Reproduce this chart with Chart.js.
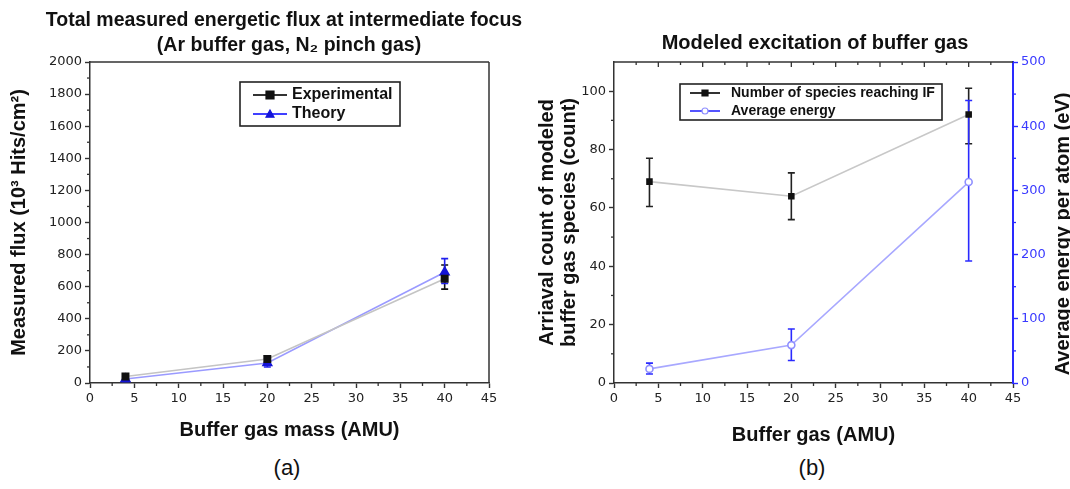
<!DOCTYPE html>
<html><head><meta charset="utf-8">
<script src="https://cdn.jsdelivr.net/npm/chart.js@4.4.1/dist/chart.umd.min.js"></script>
<style>
html,body{margin:0;padding:0;background:#fff;width:1070px;height:489px;overflow:hidden;font-family:'Liberation Sans',Arial,sans-serif}
#wa{position:absolute;left:0;top:0;width:530px;height:450px}
#wb{position:absolute;left:530px;top:0;width:540px;height:450px}
.cap{position:absolute;top:455px;font-size:22px;color:#111;transform:translateX(-50%);line-height:26px}
</style></head><body>
<div id="wa"><canvas id="ca"></canvas></div>
<div id="wb"><canvas id="cb"></canvas></div>
<div class="cap" style="left:287px">(a)</div>
<div class="cap" style="left:812px">(b)</div>
<script>
// ---------- data: panel (a) ----------
const massA = [4, 20, 40];
const expFlux = [40, 150, 650];
const expLow = [25, 130, 585];
const expHigh = [55, 170, 735];
const theoryFlux = [25, 125, 690];
const theoryLow = [10, 100, 620];
const theoryHigh = [40, 150, 775];

// ---------- data: panel (b) ----------
const massB = [4, 20, 40];
const speciesCount = [69, 64, 92];
const speciesLow = [60.5, 56, 82];
const speciesHigh = [77, 72, 101];
const avgEnergy = [22, 59, 313];
const energyLow = [14, 35, 190];
const energyHigh = [31, 84, 440];

const labelsA = ['Experimental', 'Theory'];
const labelsB = ['Number of species reaching IF', 'Average energy'];

const pts = (xs, ys) => xs.map((x, i) => ({x: x, y: ys[i]}));

const FONT = "'Liberation Sans', Arial, Helvetica, sans-serif";
const TICKFONT = {family: "'DejaVu Sans', sans-serif", size: 13};
const AX = '#333';
const BLUE = '#2a2aff';

function marker(ctx, style, x, y, r, fill, stroke) {
  ctx.save();
  ctx.fillStyle = fill; ctx.strokeStyle = stroke; ctx.lineWidth = 1.2;
  ctx.beginPath();
  if (style === 'rect') {
    ctx.rect(x - r, y - r, 2 * r, 2 * r);
  } else if (style === 'triangle') {
    ctx.moveTo(x, y - r); ctx.lineTo(x + r, y + r * 0.8); ctx.lineTo(x - r, y + r * 0.8); ctx.closePath();
  } else {
    ctx.arc(x, y, r, 0, Math.PI * 2);
  }
  ctx.fill(); ctx.stroke();
  ctx.restore();
}

const decor = {
  id: 'decor',
  beforeDatasetsDraw(chart) {
    const ctx = chart.ctx;
    chart.data.datasets.forEach((ds) => {
      if (!ds.errLow) return;
      const xs = chart.scales.x, ys = chart.scales[ds.yAxisID || 'y'];
      ctx.save();
      ctx.strokeStyle = ds.errColor; ctx.lineWidth = 1.6;
      ds.data.forEach((p, j) => {
        const px = xs.getPixelForValue(p.x);
        const y1 = ys.getPixelForValue(ds.errLow[j]);
        const y2 = ys.getPixelForValue(ds.errHigh[j]);
        ctx.beginPath();
        ctx.moveTo(px, y1); ctx.lineTo(px, y2);
        ctx.moveTo(px - 3.5, y1); ctx.lineTo(px + 3.5, y1);
        ctx.moveTo(px - 3.5, y2); ctx.lineTo(px + 3.5, y2);
        ctx.stroke();
      });
      ctx.restore();
    });
  },
  afterDraw(chart, args, o) {
    const ctx = chart.ctx, a = chart.chartArea;
    ctx.save();
    ctx.strokeStyle = AX; ctx.lineWidth = 1.5;
    ctx.beginPath();
    ctx.moveTo(a.left, a.top); ctx.lineTo(a.right, a.top);
    if (o.rightFrame) { ctx.moveTo(a.right, a.top); ctx.lineTo(a.right, a.bottom); }
    ctx.stroke();
    (o.minor || []).forEach(m => {
      const s = chart.scales[m.axis];
      ctx.strokeStyle = m.color; ctx.lineWidth = 1.3;
      for (let v = s.min + m.step; v < s.max; v += 2 * m.step) {
        ctx.beginPath();
        if (m.axis === 'x') {
          const px = s.getPixelForValue(v);
          ctx.moveTo(px, a.bottom); ctx.lineTo(px, a.bottom + 3);
        } else if (s.position === 'left') {
          const py = s.getPixelForValue(v);
          ctx.moveTo(a.left - 3, py); ctx.lineTo(a.left, py);
        } else {
          const py = s.getPixelForValue(v);
          ctx.moveTo(a.right, py); ctx.lineTo(a.right + 3, py);
        }
        ctx.stroke();
      }
    });
    if (o.topTicks) {
      const s = chart.scales.x;
      ctx.strokeStyle = AX; ctx.lineWidth = 1.3;
      for (let v = s.min + o.topTicks; v < s.max - 1e-6; v += o.topTicks) {
        const major = Math.abs(v / (2 * o.topTicks) - Math.round(v / (2 * o.topTicks))) < 1e-6;
        const px = s.getPixelForValue(v);
        ctx.beginPath(); ctx.moveTo(px, a.top); ctx.lineTo(px, a.top + (major ? 5 : 3)); ctx.stroke();
      }
    }
    (o.texts || []).forEach(t => {
      ctx.save();
      ctx.font = t.font; ctx.fillStyle = t.color || '#111';
      ctx.textAlign = 'center'; ctx.textBaseline = 'middle';
      ctx.translate(t.x, t.y);
      if (t.rot) ctx.rotate(t.rot);
      ctx.fillText(t.text, 0, 0);
      ctx.restore();
    });
    const L = o.legend;
    if (L) {
      ctx.fillStyle = '#fff'; ctx.fillRect(L.x, L.y, L.w, L.h);
      ctx.strokeStyle = '#222'; ctx.lineWidth = 1.6; ctx.strokeRect(L.x, L.y, L.w, L.h);
      chart.data.datasets.forEach((ds, i) => {
        const cy = L.y + L.padTop + i * L.rowH;
        ctx.strokeStyle = ds.legendColor; ctx.lineWidth = 2;
        ctx.beginPath(); ctx.moveTo(L.x + L.l0, cy); ctx.lineTo(L.x + L.l1, cy); ctx.stroke();
        marker(ctx, ds.pointStyle, L.x + (L.l0 + L.l1) / 2, cy, L.r, ds.pointBackgroundColor, ds.pointBorderColor);
        ctx.fillStyle = '#111'; ctx.font = L.font; ctx.textAlign = 'left'; ctx.textBaseline = 'middle';
        ctx.fillText(ds.label, L.x + L.tx, cy);
      });
    }
    ctx.restore();
  }
};

const plain = v => String(v);
const tickCfg = (step, color) => ({stepSize: step, font: TICKFONT, color: color || '#222', padding: 3, maxRotation: 0, includeBounds: false, callback: plain});
const gridCfg = (color) => ({drawOnChartArea: false, tickLength: 5, tickColor: color || AX, tickWidth: 1.4});
const titleFont = {family: FONT, size: 20, weight: 'bold', lineHeight: 1.1};

// ---------- chart (a) ----------
new Chart(document.getElementById('ca'), {
  type: 'line',
  data: {datasets: [
    {label: labelsA[0], data: pts(massA, expFlux), errLow: expLow, errHigh: expHigh, errColor: '#111',
     borderColor: '#c4c4c4', borderWidth: 1.6, pointStyle: 'rect', pointRadius: 4.5,
     pointBackgroundColor: '#111', pointBorderColor: '#111', legendColor: '#333'},
    {label: labelsA[1], data: pts(massA, theoryFlux), errLow: theoryLow, errHigh: theoryHigh, errColor: '#2020ee',
     borderColor: '#9a9aff', borderWidth: 1.6, pointStyle: 'triangle', pointRadius: 5,
     pointBackgroundColor: '#1414d8', pointBorderColor: '#1414d8', legendColor: '#4040ff'}
  ]},
  options: {
    responsive: true, maintainAspectRatio: false, animation: false,
    layout: {padding: {top: 62, right: 41, left: 0, bottom: 0}},
    plugins: {
      legend: {display: false}, tooltip: {enabled: false},
      decor: {
        rightFrame: true,
        minor: [{axis: 'x', step: 2.5, color: AX}, {axis: 'y', step: 100, color: AX}],
        texts: [
          {text: 'Total measured energetic flux at intermediate focus', x: 284, y: 21, font: "bold 19.5px " + FONT},
          {text: '(Ar buffer gas, N\u2082 pinch gas)', x: 289, y: 46, font: "bold 19.5px " + FONT}
        ],
        legend: {x: 240, y: 82, w: 160, h: 44, padTop: 13, rowH: 19, l0: 13, l1: 47, tx: 52, r: 4, font: "bold 16px " + FONT}
      }
    },
    scales: {
      x: {type: 'linear', min: 0, max: 45, ticks: tickCfg(5), grid: gridCfg(), border: {color: AX, width: 1.5},
          title: {display: true, text: 'Buffer gas mass (AMU)', font: titleFont, color: '#111', padding: {top: 0, bottom: 9}},
          afterFit: s => { s.height = 67; }},
      y: {min: 0, max: 2000, ticks: tickCfg(200), grid: gridCfg(), border: {color: AX, width: 1.5},
          title: {display: true, text: 'Measured flux (10\u00b3 Hits/cm\u00b2)', font: titleFont, color: '#111', padding: {top: 8, bottom: 0}},
          afterFit: s => { s.width = 90; }}
    }
  },
  plugins: [decor]
});

// ---------- chart (b) ----------
new Chart(document.getElementById('cb'), {
  type: 'line',
  data: {datasets: [
    {label: labelsB[0], data: pts(massB, speciesCount), yAxisID: 'y', errLow: speciesLow, errHigh: speciesHigh, errColor: '#222',
     borderColor: '#c8c8c8', borderWidth: 1.6, pointStyle: 'rect', pointRadius: 3.5,
     pointBackgroundColor: '#111', pointBorderColor: '#111', legendColor: '#333'},
    {label: labelsB[1], data: pts(massB, avgEnergy), yAxisID: 'y1', errLow: energyLow, errHigh: energyHigh, errColor: BLUE,
     borderColor: '#a8a8ff', borderWidth: 1.6, pointStyle: 'circle', pointRadius: 3.5,
     pointBackgroundColor: '#fff', pointBorderColor: '#9090ff', legendColor: '#5555ff'}
  ]},
  options: {
    responsive: true, maintainAspectRatio: false, animation: false,
    layout: {padding: {top: 62, right: 0, left: 0, bottom: 0}},
    plugins: {
      legend: {display: false}, tooltip: {enabled: false},
      decor: {
        rightFrame: false,
        topTicks: 2.5,
        minor: [{axis: 'x', step: 2.5, color: AX}, {axis: 'y', step: 10, color: AX}, {axis: 'y1', step: 50, color: BLUE}],
        texts: [
          {text: 'Modeled excitation of buffer gas', x: 285, y: 43, font: "bold 20px " + FONT},
          {text: 'Average energy per atom (eV)', x: 533, y: 234, rot: -Math.PI / 2, font: "bold 20px " + FONT}
        ],
        legend: {x: 150, y: 84, w: 262, h: 36, padTop: 9, rowH: 18, l0: 10, l1: 40, tx: 51, r: 3, font: "bold 14px " + FONT}
      }
    },
    scales: {
      x: {type: 'linear', min: 0, max: 45, ticks: tickCfg(5), grid: gridCfg(), border: {color: AX, width: 1.5},
          title: {display: true, text: 'Buffer gas (AMU)', font: titleFont, color: '#111', padding: {top: 0, bottom: 4}},
          afterFit: s => { s.height = 67; }},
      y: {position: 'left', min: 0, max: 110, ticks: tickCfg(20), grid: gridCfg(), border: {color: AX, width: 1.5},
          title: {display: true, text: ['Arriaval count of modeled', 'buffer gas species (count)'], font: titleFont, color: '#111', padding: {top: 6, bottom: 0}},
          afterFit: s => { s.width = 84; }},
      y1: {position: 'right', min: 0, max: 500, ticks: tickCfg(100, '#3a3aff'), grid: gridCfg(BLUE), border: {color: BLUE, width: 2},
          afterFit: s => { s.width = 57; }}
    }
  },
  plugins: [decor]
});
</script>
</body></html>
